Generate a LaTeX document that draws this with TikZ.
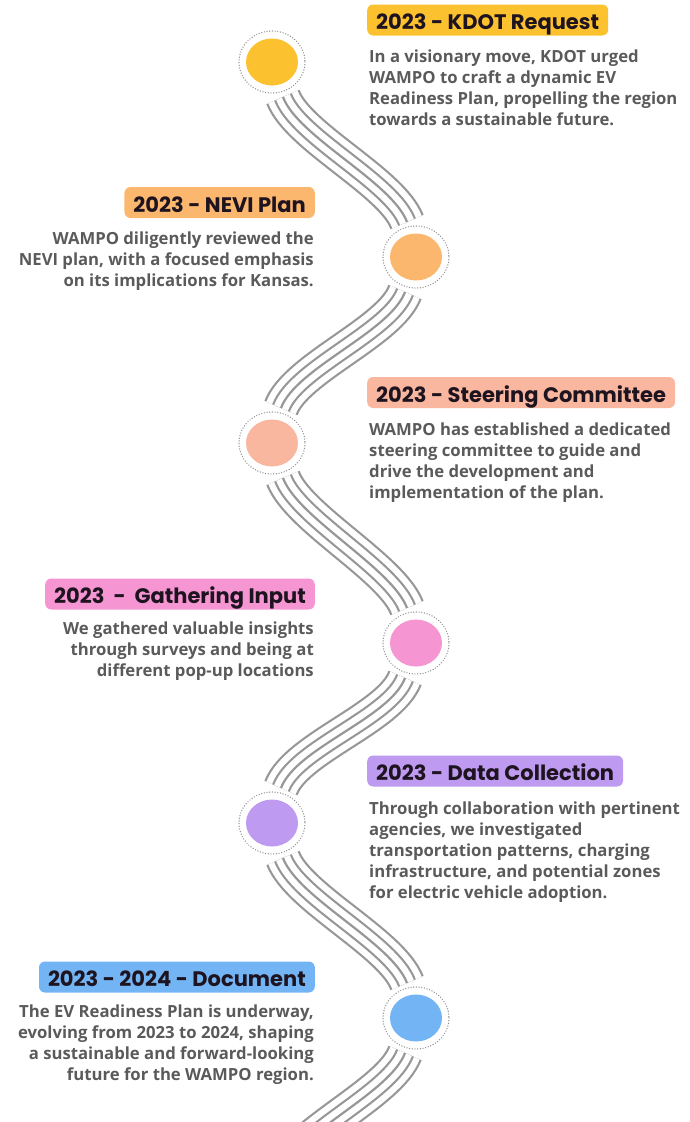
\documentclass[tikz,border=0pt]{standalone}
\usepackage{fontspec}
\setmainfont{Open Sans}
\newfontfamily\headfont{Poppins}
\usetikzlibrary{calc,shapes.geometric}

\definecolor{kdotcol}{HTML}{FCC12F}
\definecolor{nevicol}{HTML}{FCB76E}
\definecolor{steercol}{HTML}{F9B7A0}
\definecolor{inputcol}{HTML}{F596D2}
\definecolor{datacol}{HTML}{BE9BF0}
\definecolor{doccol}{HTML}{73B4F5}
\definecolor{wavegray}{HTML}{979797}
\definecolor{ringgray}{HTML}{8E8E8E}
\definecolor{headink}{HTML}{1E1420}
\definecolor{bodyink}{HTML}{5A5A5A}

\tikzset{
  milestone/.style={ellipse,minimum width=52pt,minimum height=47pt,inner sep=0pt,fill=#1},
  ring/.style={ringgray,line width=1.4pt,line cap=round,dash pattern=on 0pt off 2.7pt},
  head/.style={fill=#1,rounded corners=6pt,inner xsep=9pt,inner ysep=0pt,
    minimum height=31pt,text height=19pt,text depth=0pt,text=headink,
    font=\headfont\bfseries\fontsize{21}{21}\selectfont},
  body/.style={inner sep=0pt,text=bodyink,font=\bfseries\fontsize{16.7}{21}\selectfont},
}

% five parallel strands from one stop to the next, #3 = 1 (to the right) or -1 (to the left)
\newcommand\wave[3]{%
  \foreach \lw/\lc in {36.2/wavegray,31.8/white,19.2/wavegray,14.8/white,2.2/wavegray}
    \draw[line width=\lw pt,\lc]
         ($(#1)+(11*#3,35)$)
      .. controls ($(#1)+(26*#3,75)$) and ($(#2)+(-24*#3,-75)$) .. ($(#2)+(-9*#3,-35)$);
}

\begin{document}
\begin{tikzpicture}[x=1pt,y=-1pt]
    \useasboundingbox (0,0) rectangle (689,1122);
    \clip (0,0) rectangle (689,1122);

    %%%% Stops %%%%%%%%%%%%%%%%%%%%%%%%%%%%%%%%%%%%%%%%%%%%%%%%%%%%%%%%%%%
    \node[milestone=kdotcol]  (c1) at (272,62)   {};
    \node[milestone=nevicol]  (c2) at (416,257)  {};
    \node[milestone=steercol] (c3) at (272,443)  {};
    \node[milestone=inputcol] (c4) at (416,643)  {};
    \node[milestone=datacol]  (c5) at (272,823)  {};
    \node[milestone=doccol]   (c6) at (416,1018) {};
    \coordinate (c7) at (272,1208);

    \foreach \c in {c1,c2,c3,c4,c5,c6}
      \draw[ring] (\c) ellipse [x radius=33,y radius=31];

    %%%% Road %%%%%%%%%%%%%%%%%%%%%%%%%%%%%%%%%%%%%%%%%%%%%%%%%%%%%%%%%%%%
    \foreach \a/\b/\d in {c1/c2/1,c2/c3/-1,c3/c4/1,c4/c5/-1,c5/c6/1,c6/c7/-1}
      \wave{\a}{\b}{\d};

    %%%% Right side %%%%%%%%%%%%%%%%%%%%%%%%%%%%%%%%%%%%%%%%%%%%%%%%%%%%%%
    \node[head=kdotcol,anchor=west] (h1) at (367,20) {2023 - KDOT Request};
    \node[body,anchor=north west,align=left] (t1) at (369,50)
      {In a visionary move, KDOT urged\\WAMPO to craft a dynamic EV\\Readiness Plan, propelling the region\\towards a sustainable future.};

    \node[head=steercol,anchor=west] (h3) at (367,392.5) {2023 - Steering Committee};
    \node[body,anchor=north west,align=left] (t3) at (369,423)
      {WAMPO has established a dedicated\\steering committee to guide and\\drive the development and\\implementation of the plan.};

    \node[head=datacol,anchor=west] (h5) at (367,771) {2023 - Data Collection};
    \node[body,anchor=north west,align=left] (t5) at (369,802)
      {Through collaboration with pertinent\\agencies, we investigated\\transportation patterns, charging\\infrastructure, and potential zones\\for electric vehicle adoption.};

    %%%% Left side %%%%%%%%%%%%%%%%%%%%%%%%%%%%%%%%%%%%%%%%%%%%%%%%%%%%%%%
    \node[head=nevicol,anchor=east] (h2) at (315,202.5) {2023 - NEVI Plan};
    \node[body,anchor=north east,align=right] (t2) at (314,232)
      {WAMPO diligently reviewed the\\NEVI plan, with a focused emphasis\\on its implications for Kansas.};

    \node[head=inputcol,anchor=east] (h4) at (315,594) {2023\ \ -\ \ Gathering Input};
    \node[body,anchor=north east,align=right] (t4) at (314,622)
      {We gathered valuable insights\\through surveys and being at\\different pop-up locations};

    \node[head=doccol,anchor=east] (h6) at (315,977) {2023 - 2024 - Document};
    \node[body,anchor=north east,align=right] (t6) at (314,1005)
      {The EV Readiness Plan is underway,\\evolving from 2023 to 2024, shaping\\a sustainable and forward-looking\\future for the WAMPO region.};
\end{tikzpicture}
\end{document}
